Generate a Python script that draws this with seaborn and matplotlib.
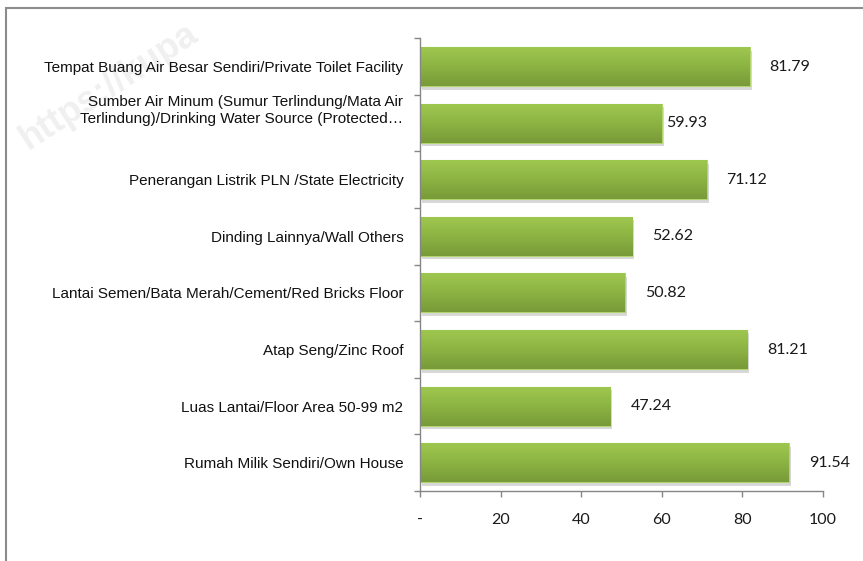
import numpy as np
import pandas as pd
import seaborn as sns
import matplotlib.pyplot as plt
import matplotlib.patheffects as pe
from matplotlib.patches import Rectangle
from matplotlib.colors import LinearSegmentedColormap

categories = [
    "Tempat Buang Air Besar Sendiri/Private Toilet Facility",
    "Sumber Air Minum (Sumur Terlindung/Mata Air\nTerlindung)/Drinking Water Source (Protected\u2026",
    "Penerangan Listrik PLN /State Electricity",
    "Dinding Lainnya/Wall Others",
    "Lantai Semen/Bata Merah/Cement/Red Bricks Floor",
    "Atap Seng/Zinc Roof",
    "Luas Lantai/Floor Area 50-99 m2",
    "Rumah Milik Sendiri/Own House",
]
values = [81.79, 59.93, 71.12, 52.62, 50.82, 81.21, 47.24, 91.54]
xticks = [0, 20, 40, 60, 80, 100]
xtick_labels = ["-", "20", "40", "60", "80", "100"]

df = pd.DataFrame({"cat": categories, "val": values})

sns.set_style("white")
plt.rcParams['font.family'] = ['Liberation Sans', 'DejaVu Sans']

fig = plt.figure(figsize=(8.63, 5.61), dpi=100)
ax = fig.add_axes([420/863, 70/561, 403/863, 452.7/561])
ax.patch.set_alpha(0)

sns.barplot(data=df, x="val", y="cat", orient="h", color="#8db544", width=0.69,
            edgecolor="#b3d46f", linewidth=0.8, ax=ax)

# gradient fill + soft shadow like the excel bars
grad = LinearSegmentedColormap.from_list("g", ["#9fc850", "#8cb443", "#789a39"])
for p in ax.patches:
    p.set_path_effects([pe.SimplePatchShadow(offset=(1.5, -2.5), shadow_rgbFace="#7f7f7f", alpha=0.3),
                        pe.Normal()])
    x0, y0 = p.get_x(), p.get_y()
    w, h = p.get_width(), p.get_height()
    img = ax.imshow(np.linspace(0, 1, 64).reshape(-1, 1), cmap=grad, aspect="auto",
                    extent=[x0, x0 + w, y0 + h, y0], origin="upper", zorder=p.get_zorder() + 0.1)
    img.set_clip_path(p)

ax.set_xlim(0, 100)
ax.set_ylim(len(categories) - 0.5, -0.5)
ax.set_xlabel("")
ax.set_ylabel("")

# value labels
pads = [20, 5, 20, 20, 20, 20, 20, 20]
for i, (v, pd_px) in enumerate(zip(values, pads)):
    ax.annotate(f"{v:.2f}", xy=(v, i), xytext=(pd_px * 0.72, 0), textcoords="offset points",
                ha="left", va="center", fontsize=11.5, family=["Lato", "DejaVu Sans"], color="#1a1a1a")

ax.set_xticks(xticks)
ax.set_xticklabels(xtick_labels, family=["Lato", "DejaVu Sans"], fontsize=11.5, color="#1a1a1a")
ax.tick_params(axis="x", direction="out", length=4, width=1, color="#868686", pad=12, bottom=True)

ax.set_yticks(range(len(categories)))
ax.set_yticklabels(categories, fontsize=11, color="#111111", linespacing=1.25)
ax.get_yticklabels()[1].set_verticalalignment("baseline")
ax.tick_params(axis="y", which="major", length=0, pad=12)
ax.set_yticks(np.arange(-0.5, len(categories), 1), minor=True)
ax.tick_params(axis="y", which="minor", direction="out", length=4, width=1, color="#868686", left=True)

sns.despine(ax=ax, top=True, right=True)
for s in ["left", "bottom"]:
    ax.spines[s].set_color("#868686")
    ax.spines[s].set_linewidth(1)

# outer chart frame
fig.add_artist(Rectangle((6/863, -0.1), 1.2, 1.0857, transform=fig.transFigure, fill=False,
                         edgecolor="#8c8c8c", linewidth=1.5, zorder=5))

# faint watermark
fig.text(28/863, 1 - 150/561, "https://kupa", rotation=33, rotation_mode="anchor",
         ha="left", va="baseline", fontsize=26, fontweight="bold", color="#f0f0f0",
         family=["Liberation Sans", "DejaVu Sans"], zorder=-1)

fig.savefig("out.png", dpi=100)
